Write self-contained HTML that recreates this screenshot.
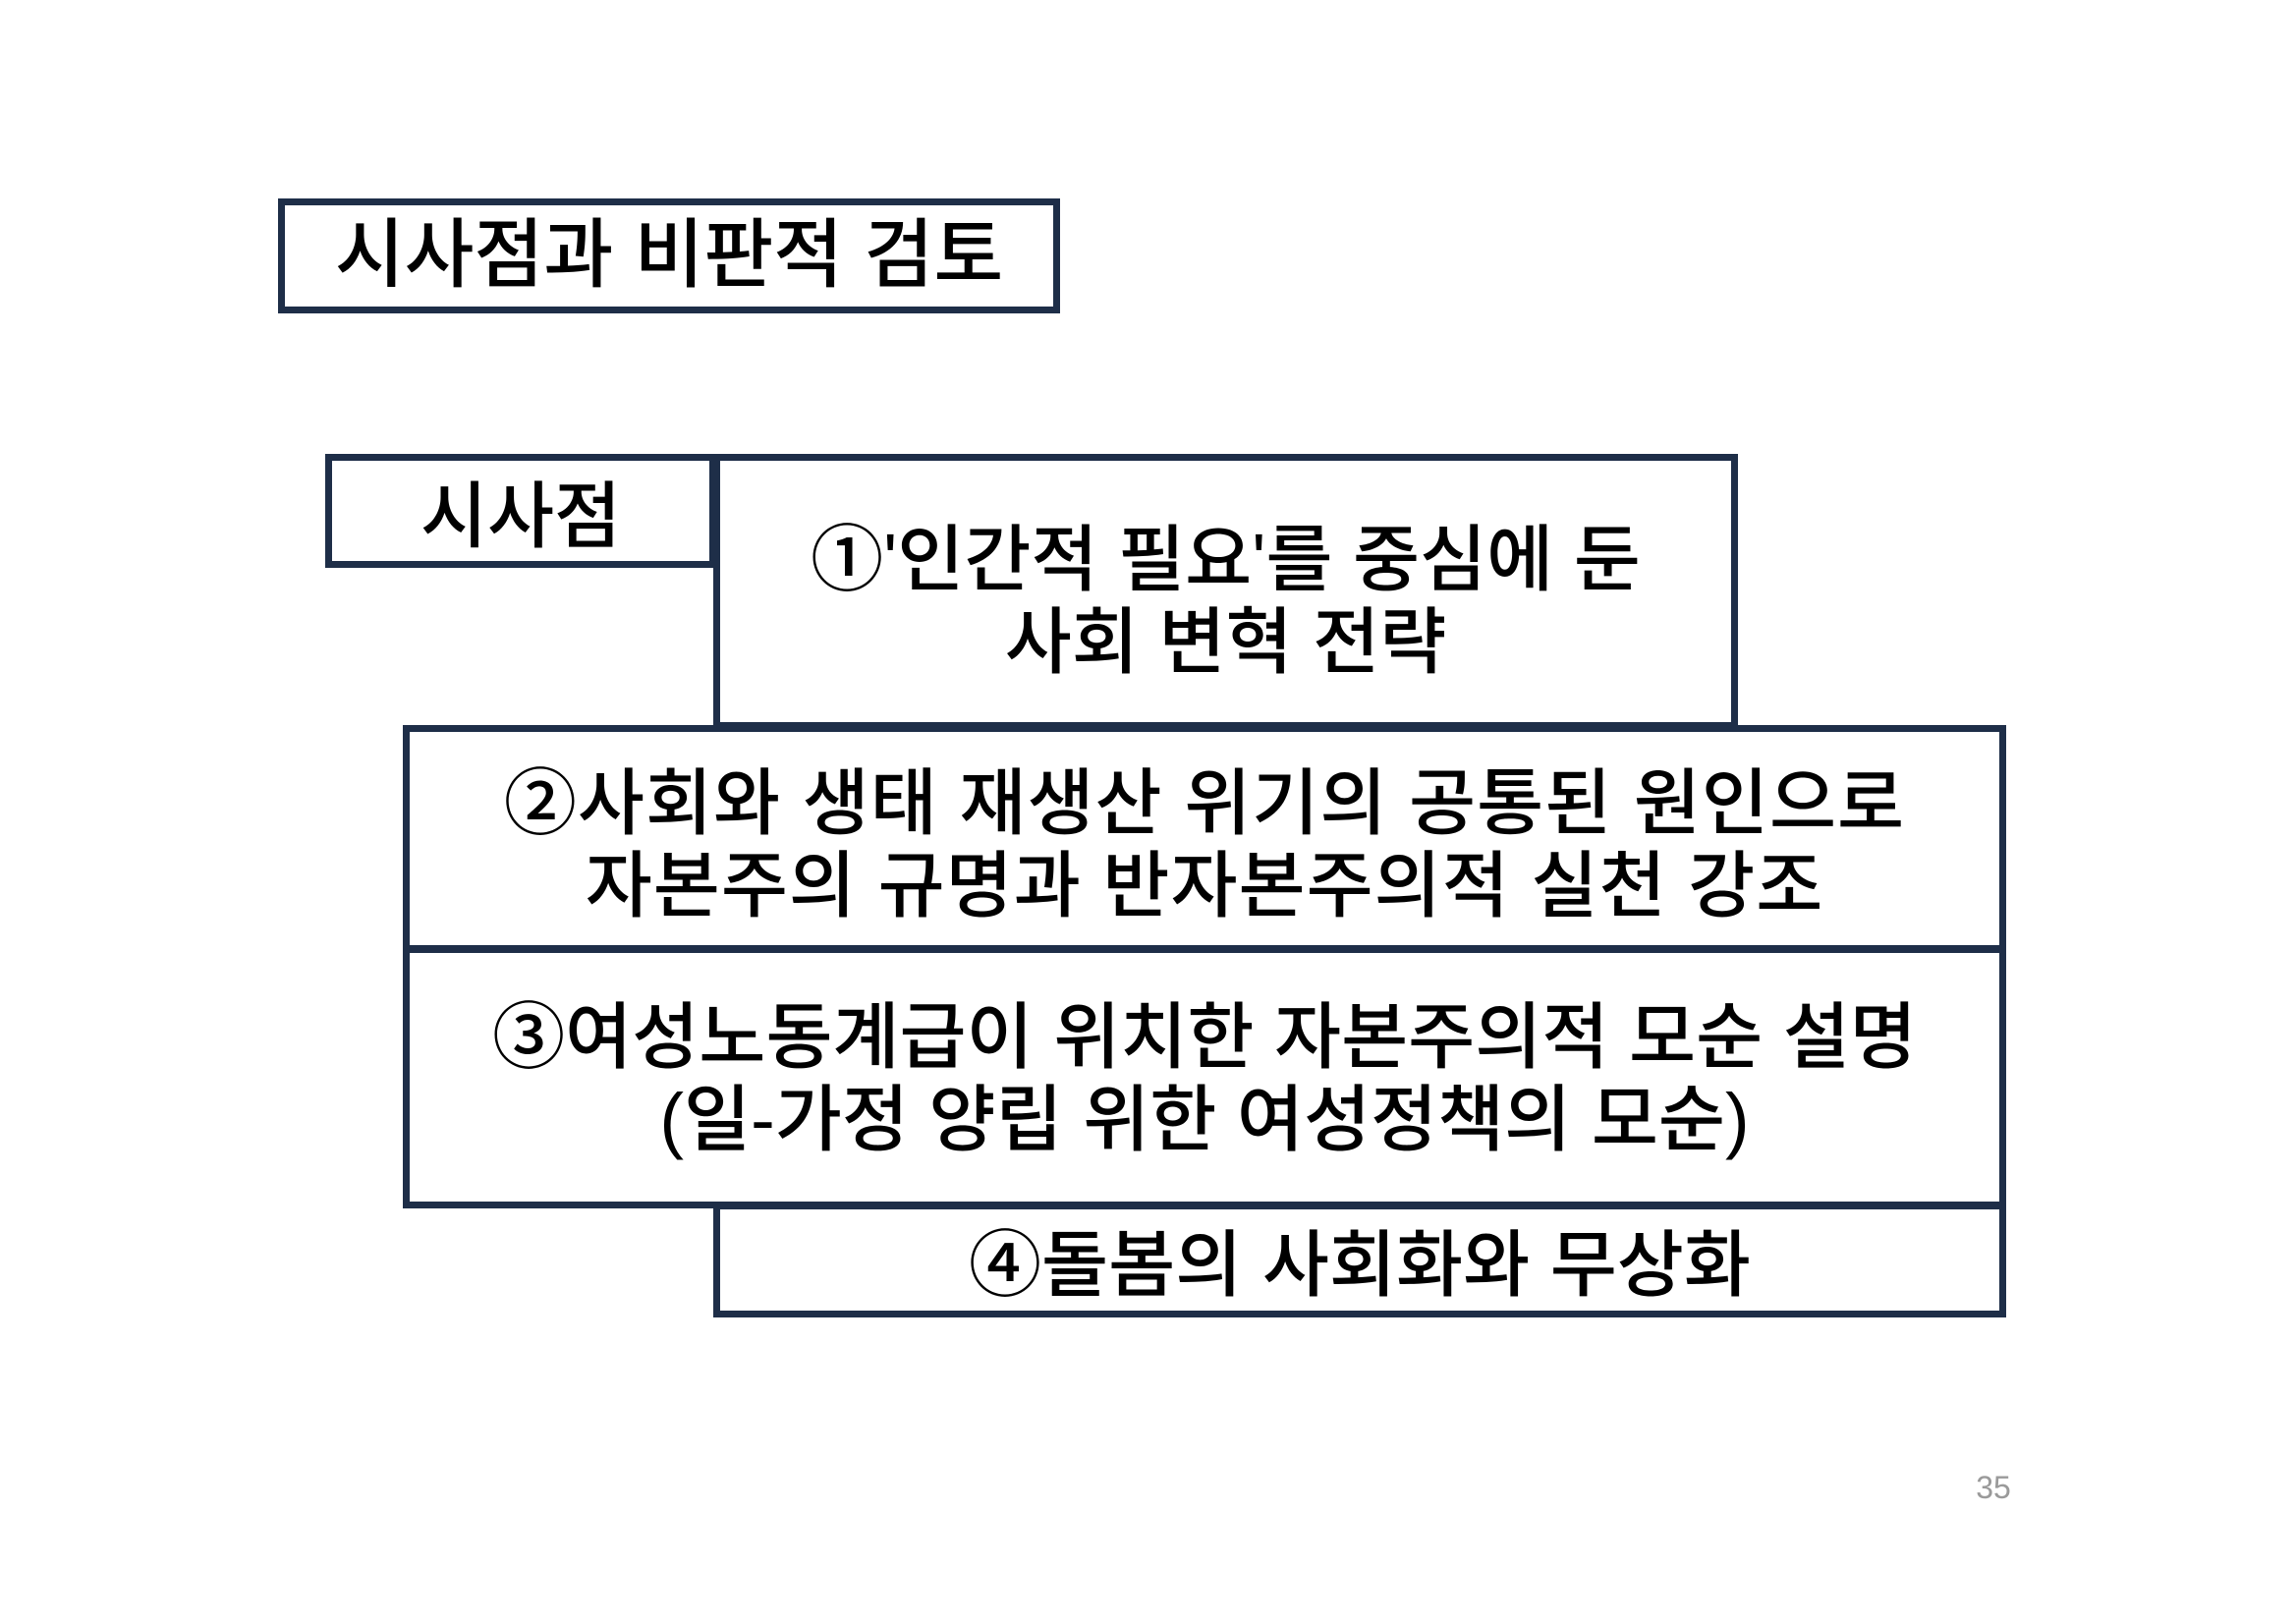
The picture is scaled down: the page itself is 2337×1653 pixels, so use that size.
<!DOCTYPE html>
<html><head><meta charset="utf-8"><style>
html,body{margin:0;padding:0;background:#fff;}
body{width:2337px;height:1653px;position:relative;overflow:hidden;font-family:"Liberation Sans","Noto Sans CJK KR",sans-serif;}
.b{position:absolute;border:7px solid #1e2e48;box-sizing:border-box;}
.t{position:absolute;left:0;right:0;text-align:center;color:#000;font-weight:500;white-space:nowrap;letter-spacing:0;font-size:74px;line-height:84px;}
</style></head><body>
<div class="b" style="left:283px;top:202px;width:796px;height:117px;"></div>
<div class="t" style="left:283px;width:796px;top:218px;font-size:77px;line-height:84px;">시사점과 비판적 검토</div>

<div class="b" style="left:726px;top:462px;width:1043px;height:280px;"></div>
<div class="b" style="left:331px;top:462px;width:398px;height:116px;"></div>
<div class="t" style="left:331px;width:398px;top:484px;">시사점</div>
<div class="t" style="left:726px;width:1043px;top:528px;">①'인간적 필요'를 중심에 둔<br>사회 변혁 전략</div>

<div class="b" style="left:410px;top:738px;width:1632px;height:231px;"></div>
<div class="t" style="left:410px;width:1632px;top:776px;letter-spacing:1px;">②사회와 생태 재생산 위기의 공통된 원인으로<br>자본주의 규명과 반자본주의적 실천 강조</div>

<div class="b" style="left:410px;top:963px;width:1632px;height:267px;"></div>
<div class="t" style="left:410px;width:1632px;top:1014px;">③여성노동계급이 위치한 자본주의적 모순 설명<br>(일-가정 양립 위한 여성정책의 모순)</div>

<div class="b" style="left:726px;top:1224px;width:1316px;height:117px;"></div>
<div class="t" style="left:726px;width:1316px;top:1246px;">④돌봄의 사회화와 무상화</div>

<div style="position:absolute;left:1999px;top:1496px;width:60px;text-align:center;color:#9a9a9a;font-size:32px;">35</div>
</body></html>
